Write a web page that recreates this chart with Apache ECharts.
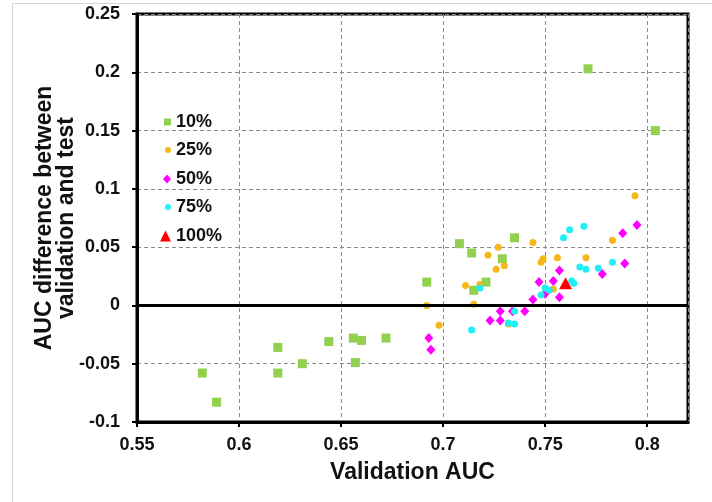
<!DOCTYPE html>
<html>
<head>
<meta charset="utf-8">
<script src="https://cdn.jsdelivr.net/npm/echarts@6/dist/echarts.min.js"></script>
<style>
  html, body { margin: 0; padding: 0; background: #fff; }
  #chart { width: 712px; height: 502px; }
</style>
</head>
<body>
<div id="chart"></div>
<script>
// Validation AUC vs. (validation - test) AUC difference, per training fraction
const seriesNames = ['10%', '25%', '50%', '75%', '100%'];

const pts10 = [
  [0.582, -0.058], [0.589, -0.083], [0.619, -0.036], [0.619, -0.058], [0.631, -0.050],
  [0.644, -0.031], [0.656, -0.028], [0.660, -0.030], [0.657, -0.049], [0.672, -0.028],
  [0.692, 0.020], [0.708, 0.053], [0.714, 0.045], [0.715, 0.013], [0.721, 0.020],
  [0.729, 0.040], [0.735, 0.058], [0.771, 0.203], [0.804, 0.150]
];
const pts25 = [
  [0.692, 0.000], [0.698, -0.017], [0.711, 0.017], [0.715, 0.001], [0.718, 0.018],
  [0.722, 0.043], [0.726, 0.031], [0.727, 0.050], [0.730, 0.034], [0.732, -0.016],
  [0.744, 0.054], [0.748, 0.037], [0.749, 0.040], [0.754, 0.014], [0.756, 0.041],
  [0.770, 0.041], [0.783, 0.056], [0.794, 0.094]
];
const pts50 = [
  [0.693, -0.028], [0.694, -0.038], [0.723, -0.013], [0.728, -0.013], [0.728, -0.005],
  [0.734, -0.005], [0.740, -0.005], [0.744, 0.005], [0.747, 0.020], [0.750, 0.010],
  [0.754, 0.021], [0.757, 0.030], [0.757, 0.007], [0.778, 0.027], [0.789, 0.036],
  [0.788, 0.062], [0.795, 0.069]
];
const pts75 = [
  [0.714, -0.021], [0.718, 0.015], [0.732, -0.015], [0.735, -0.016], [0.735, -0.005],
  [0.748, 0.009], [0.750, 0.015], [0.752, 0.013], [0.759, 0.058], [0.762, 0.065],
  [0.763, 0.021], [0.764, 0.019], [0.767, 0.033], [0.769, 0.068], [0.770, 0.031],
  [0.776, 0.032], [0.783, 0.037]
];
const pts100 = [[0.760, 0.019]];

const xTickLabels = ['0.55', '0.6', '0.65', '0.7', '0.75', '0.8'];
const yTickLabels = ['-0.1', '-0.05', '0', '0.05', '0.1', '0.15', '0.2', '0.25'];

const FONT = "'Liberation Sans', Arial, sans-serif";
const TXT = '#111';

const colors = ['#92D050', '#F7B718', '#FF00FF', '#22EEF8', '#FF0000'];
const symbols = ['rect', 'circle', 'diamond', 'circle', 'triangle'];
const sizes = [9, 7, [9, 10], 7, [13, 12]];
const dataSets = [pts10, pts25, pts50, pts75, pts100];

// legend swatches are drawn a little smaller than the plotted markers
const legendIcon = [[7, 7], [6, 6], [8, 9], [6, 6], [11, 11]];
const legendRowY = [122, 150, 179, 207, 236];

const fmt = v => String(parseFloat(v.toFixed(2)));

const chart = echarts.init(document.getElementById('chart'), null, { renderer: 'canvas' });

const series = dataSets.map((d, i) => {
  const s = {
    name: seriesNames[i],
    type: 'scatter',
    data: d,
    symbol: symbols[i],
    symbolSize: sizes[i],
    itemStyle: { color: colors[i], opacity: 1 },
    emphasis: { disabled: true }
  };
  if (i === 0) {
    // solid zero reference line across the plot
    s.markLine = {
      silent: true,
      symbol: 'none',
      label: { show: false },
      lineStyle: { color: '#000', width: 3, type: 'solid' },
      emphasis: { disabled: true },
      data: [{ yAxis: 0 }]
    };
  }
  return s;
});

const legends = seriesNames.map((n, i) => ({
  data: [{ name: n, icon: symbols[i] }],
  orient: 'vertical',
  left: 176 - 5 - legendIcon[i][0],
  top: legendRowY[i] - 9,
  padding: 0,
  itemWidth: legendIcon[i][0],
  itemHeight: legendIcon[i][1],
  selectedMode: false,
  textStyle: { fontFamily: FONT, fontSize: 18, fontWeight: 'bold', color: TXT, lineHeight: 18 }
}));

chart.setOption({
  animation: false,
  backgroundColor: '#fff',
  graphic: [{
    type: 'rect',
    silent: true,
    shape: { x: 12.5, y: 3.5, width: 760, height: 560 },
    style: { fill: 'none', stroke: '#d6d6d6', lineWidth: 1 }
  }],
  grid: {
    left: 137, right: 24, top: 14, bottom: 80,
    show: true, borderColor: '#000', borderWidth: 3, backgroundColor: 'transparent'
  },
  legend: legends,
  xAxis: {
    type: 'value',
    min: 0.55, max: 0.82, interval: 0.05,
    name: 'Validation AUC',
    nameLocation: 'middle',
    nameGap: 39,
    nameMoveOverlap: false,
    nameTextStyle: { fontFamily: FONT, fontSize: 23, fontWeight: 'bold', color: TXT, lineHeight: 23 },
    axisLine: { onZero: false, lineStyle: { color: '#000', width: 3 } },
    axisTick: { show: true, length: 5, lineStyle: { color: '#000', width: 2 } },
    axisLabel: {
      margin: 14, fontFamily: FONT, fontSize: 18, fontWeight: 'bold', color: TXT,
      showMaxLabel: false,
      formatter: v => {
        const s = fmt(v);
        return xTickLabels.includes(s) ? s : '';
      }
    },
    splitLine: { show: true, lineStyle: { color: '#8a8a8a', width: 1, type: [4, 3] } }
  },
  yAxis: {
    type: 'value',
    min: -0.1, max: 0.25, interval: 0.05,
    name: 'AUC difference between\nvalidation and test',
    nameLocation: 'middle',
    nameRotate: 90,
    nameGap: 59,
    nameMoveOverlap: false,
    nameTextStyle: { fontFamily: FONT, fontSize: 23, fontWeight: 'bold', color: TXT, lineHeight: 22, align: 'center' },
    axisLine: { onZero: false, lineStyle: { color: '#000', width: 3 } },
    axisTick: { show: true, length: 5, lineStyle: { color: '#000', width: 2 } },
    axisLabel: {
      margin: 17, fontFamily: FONT, fontSize: 18, fontWeight: 'bold', color: TXT,
      formatter: v => {
        const s = fmt(v);
        return yTickLabels.includes(s) ? s : '';
      }
    },
    splitLine: { show: true, lineStyle: { color: '#8a8a8a', width: 1, type: [4, 3] } }
  },
  series: series
});
</script>
</body>
</html>
